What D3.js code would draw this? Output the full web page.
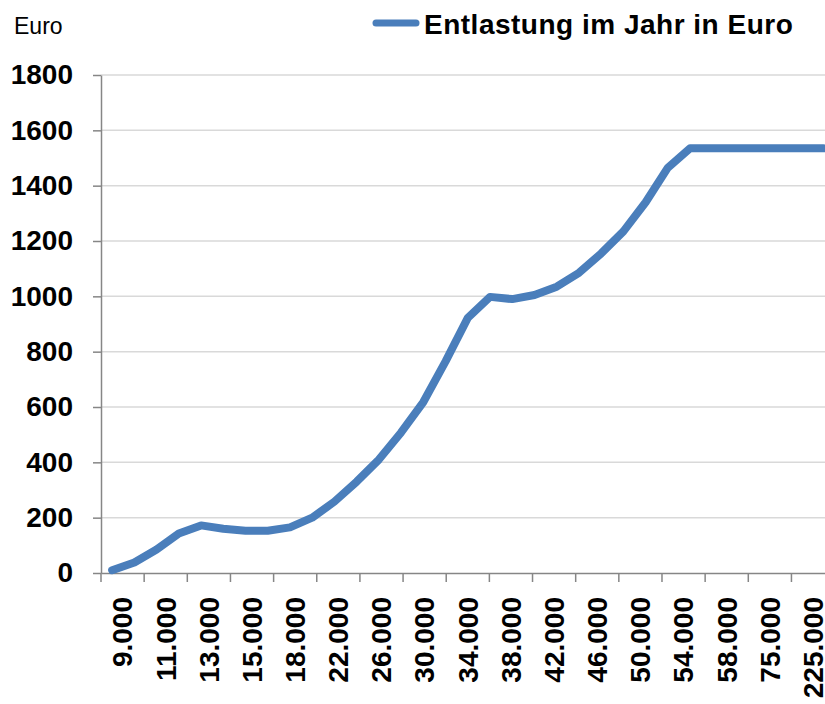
<!DOCTYPE html>
<html>
<head>
<meta charset="utf-8">
<script src="https://cdn.jsdelivr.net/npm/d3@7"></script>
<style>
  body { margin: 0; background: #fff; }
  svg { display: block; font-family: "Liberation Sans", Arial, sans-serif; }
</style>
</head>
<body>
<div id="grafica"></div>
<script>
// etiquetas del eje x (una cada dos puntos de la linea)
const etiquetas = ["9.000", "11.000", "13.000", "15.000", "18.000", "22.000", "26.000", "30.000", "34.000",
  "38.000", "42.000", "46.000", "50.000", "54.000", "58.000", "75.000", "225.000"]
// Entlastung im Jahr in Euro
const entlastung = [10, 38, 85, 143, 172, 160, 153, 153, 165, 200, 258, 330, 410, 508, 618, 765, 922,
  998, 990, 1005, 1035, 1085, 1155, 1235, 1340, 1465, 1535, 1535, 1535, 1535, 1535, 1535, 1535]
const yTicks = [0, 200, 400, 600, 800, 1000, 1200, 1400, 1600, 1800]
const serie = "Entlastung im Jahr in Euro"
const unidad = "Euro"

const anchoTotal = 825
const altoTotal = 704
const margins = { top: 75, left: 101 }
const ancho = 733.6
const alto = 498

const svg = d3.select("#grafica")
  .append("svg")
  .attr("width", anchoTotal)
  .attr("height", altoTotal)

const g = svg.append("g")
  .attr("transform", `translate(${margins.left}, ${margins.top})`)

const y = d3.scaleLinear()
  .domain([0, 1800])
  .range([alto, 0])

const xEje = d3.scaleBand()
  .domain(etiquetas)
  .range([0, ancho])

const xLinea = d3.scalePoint()
  .domain(d3.range(entlastung.length))
  .range([0, ancho])
  .padding(0.5)

// lineas de cuadricula
g.append("g")
  .selectAll("line")
  .data(yTicks.filter((d) => d > 0))
  .enter()
  .append("line")
  .attr("x1", 0)
  .attr("x2", ancho)
  .attr("y1", (d) => y(d))
  .attr("y2", (d) => y(d))
  .attr("stroke", "#d9d9d9")
  .attr("stroke-width", 1.5)

// eje y
const yAxis = d3.axisLeft(y)
  .tickValues(yTicks)
  .tickFormat(d3.format("d"))
  .tickSize(8)
  .tickSizeOuter(0)
  .tickPadding(20)
const yAxisGroup = g.append("g").call(yAxis)
yAxisGroup.select(".domain").attr("stroke", "#868686").attr("stroke-width", 1.5)
yAxisGroup.selectAll(".tick line").attr("stroke", "#868686").attr("stroke-width", 1.5)
yAxisGroup.selectAll("text")
  .attr("fill", "#000")
  .style("font-size", "28px")
  .style("font-weight", "bold")

// eje x
const xAxis = d3.axisBottom(xEje).tickSize(0).tickSizeOuter(0)
const xAxisGroup = g.append("g")
  .attr("transform", `translate(0, ${alto})`)
  .call(xAxis)
xAxisGroup.select(".domain").attr("stroke", "#868686").attr("stroke-width", 1.5)
xAxisGroup.selectAll("text")
  .attr("transform", "rotate(-90)")
  .attr("x", -24)
  .attr("y", 0)
  .attr("dy", "0.35em")
  .attr("text-anchor", "end")
  .attr("fill", "#000")
  .style("font-size", "28px")
  .style("font-weight", "bold")
xAxisGroup.selectAll(".marca")
  .data(etiquetas.map((d) => xEje(d)).concat([ancho]))
  .enter()
  .append("line")
  .attr("class", "marca")
  .attr("x1", (d) => d)
  .attr("x2", (d) => d)
  .attr("y1", 0)
  .attr("y2", 9)
  .attr("stroke", "#868686")
  .attr("stroke-width", 1.5)

// linea
const linea = d3.line()
  .x((d, i) => xLinea(i))
  .y((d) => y(d))
g.append("path")
  .datum(entlastung)
  .attr("d", linea)
  .attr("fill", "none")
  .attr("stroke", "#4A7EBB")
  .attr("stroke-width", 8)
  .attr("stroke-linecap", "round")
  .attr("stroke-linejoin", "round")

// titulo del eje y
svg.append("text")
  .attr("x", 14)
  .attr("y", 34)
  .style("font-size", "23px")
  .text(unidad)

// leyenda
svg.append("line")
  .attr("x1", 376)
  .attr("x2", 416)
  .attr("y1", 23)
  .attr("y2", 23)
  .attr("stroke", "#4A7EBB")
  .attr("stroke-width", 7)
  .attr("stroke-linecap", "round")
svg.append("text")
  .attr("x", 424)
  .attr("y", 34)
  .style("font-size", "28px")
  .style("font-weight", "bold")
  .style("letter-spacing", "0.5px")
  .text(serie)
</script>
</body>
</html>
